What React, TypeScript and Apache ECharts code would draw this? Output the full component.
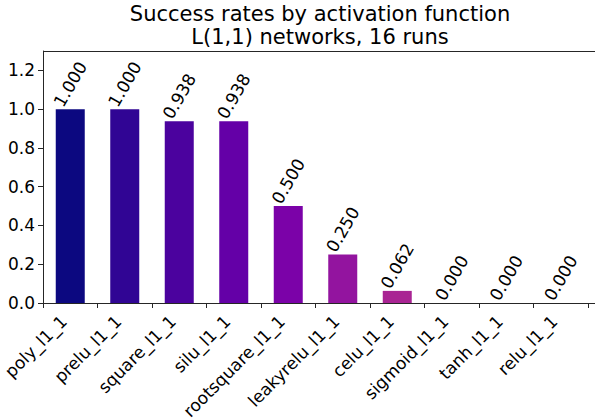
import React, { useEffect, useRef } from "react";
import * as echarts from "echarts";

const categories = [
  "poly_l1_1",
  "prelu_l1_1",
  "square_l1_1",
  "silu_l1_1",
  "rootsquare_l1_1",
  "leakyrelu_l1_1",
  "celu_l1_1",
  "sigmoid_l1_1",
  "tanh_l1_1",
  "relu_l1_1",
];
const successRates = [1.0, 1.0, 0.9375, 0.9375, 0.5, 0.25, 0.0625, 0, 0, 0];
const valueLabels = ["1.000", "1.000", "0.938", "0.938", "0.500", "0.250", "0.062", "0.000", "0.000", "0.000"];
const barColors = [
  "#0c0880",
  "#300594",
  "#4b029e",
  "#6400a7",
  "#7b02a8",
  "#93149f",
  "#a92493",
  "#bc3587",
  "#cc4778",
  "#da5b69",
];
const yTicks = [0, 0.2, 0.4, 0.6, 0.8, 1.0, 1.2];
const titleLines = ["Success rates by activation function", "L(1,1) networks, 16 runs"];

const FONT = "DejaVu Sans";
const TEXT = "#000000";

export default function App() {
  const ref = useRef<HTMLDivElement>(null);
  useEffect(() => {
    if (!ref.current) return;
    const chart = echarts.init(ref.current, null, { renderer: "svg" });
    const gridLeft = 43;
    const gridTop = 51;
    const gridRight = 7;
    const gridBottom = 117;
    const option: any = {
      animation: false,
      backgroundColor: "#ffffff",
      textStyle: { fontFamily: FONT },
      grid: {
        left: gridLeft,
        top: gridTop,
        right: gridRight,
        bottom: gridBottom,
        containLabel: false,
        outerBoundsMode: "none",
      },
      graphic: [
        {
          type: "text",
          x: 320,
          y: 3,
          style: { text: titleLines[0], font: `21px '${FONT}'`, fill: TEXT, textAlign: "center", textVerticalAlign: "top" },
        },
        {
          type: "text",
          x: 320,
          y: 26,
          style: { text: titleLines[1], font: `21px '${FONT}'`, fill: TEXT, textAlign: "center", textVerticalAlign: "top" },
        },
        {
          type: "line",
          shape: { x1: gridLeft, y1: gridTop + 0.5, x2: 595, y2: gridTop + 0.5 },
          style: { stroke: "#262626", lineWidth: 1 },
        },
        {
          type: "line",
          shape: { x1: 585, y1: 420 - gridBottom + 0.5, x2: 595, y2: 420 - gridBottom + 0.5 },
          style: { stroke: "#262626", lineWidth: 1 },
        },
      ],
      xAxis: {
        type: "category",
        data: categories,
        axisLine: { show: true, lineStyle: { color: "#262626", width: 1 } },
        axisTick: { show: true, length: 5, lineStyle: { color: "#262626" } },
        axisLabel: {
          interval: 0,
          rotate: 45,
          fontSize: 17,
          fontFamily: FONT,
          color: TEXT,
          margin: 9,
          padding: [0, 9, 0, 0],
        },
        splitLine: { show: false },
      },
      yAxis: {
        type: "value",
        min: 0,
        max: 1.3,
        interval: 0.2,
        axisLine: { show: true, lineStyle: { color: "#262626", width: 1 } },
        axisTick: { show: true, length: 5, lineStyle: { color: "#262626" }, customValues: yTicks },
        axisLabel: {
          fontSize: 17,
          fontFamily: FONT,
          color: TEXT,
          margin: 8,
          customValues: yTicks,
          formatter: (v: number) => v.toFixed(1),
        },
        splitLine: { show: false },
      },
      series: [
        {
          type: "bar",
          barWidth: 29,
          data: successRates.map((v, i) => ({ value: v, itemStyle: { color: barColors[i] } })),
          label: {
            show: true,
            position: "top",
            distance: 25,
            rotate: 60,
            align: "center",
            verticalAlign: "middle",
            fontSize: 17,
            fontFamily: FONT,
            color: TEXT,
            formatter: (p: any) => valueLabels[p.dataIndex],
          },
        },
      ],
    };
    chart.setOption(option);
    return () => chart.dispose();
  }, []);
  return <div ref={ref} style={{ width: 595, height: 420, position: "absolute", left: 0, top: 0 }} />;
}
